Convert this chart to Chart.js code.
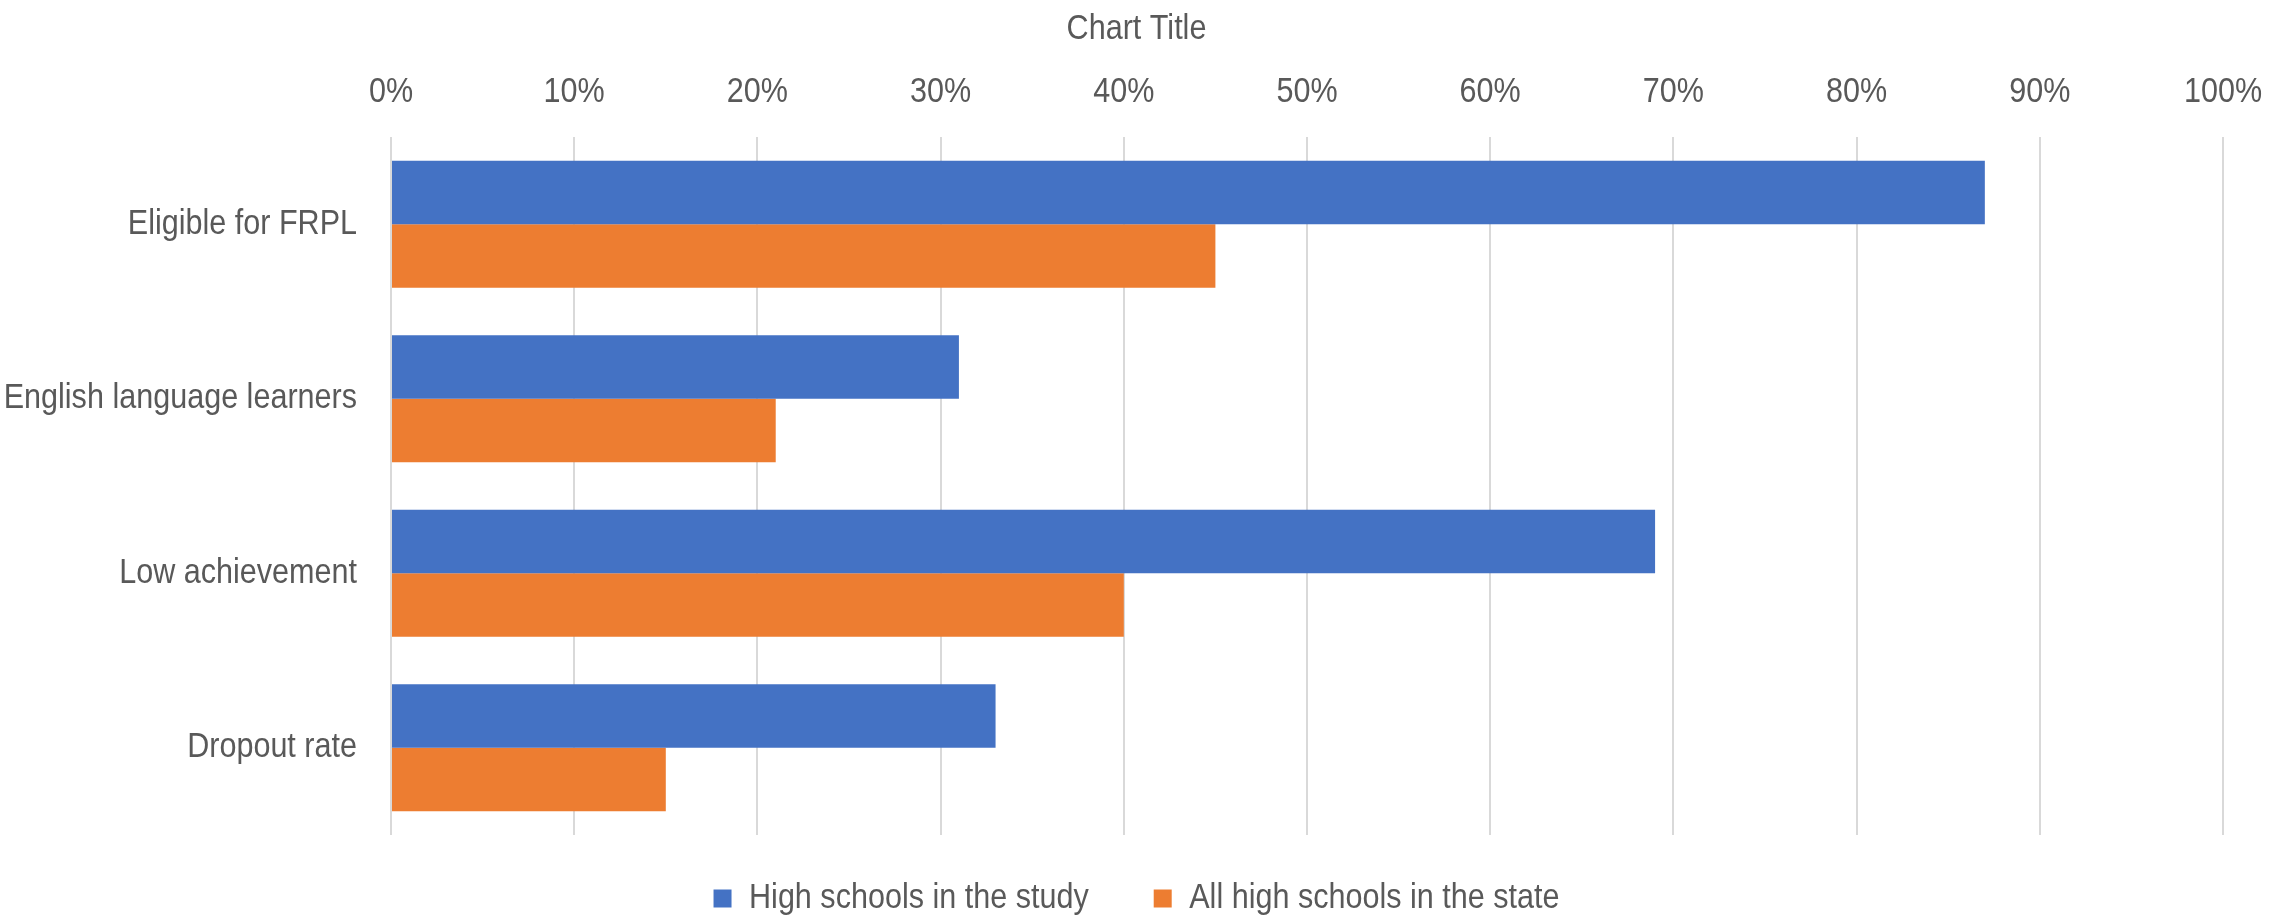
<!DOCTYPE html>
<html>
<head>
<meta charset="utf-8">
<script src="https://cdn.jsdelivr.net/npm/chart.js@4/dist/chart.umd.min.js"></script>
<style>
  html, body { margin: 0; padding: 0; background: #ffffff; }
  #wrap { width: 2288px; height: 917px; position: relative; }
</style>
</head>
<body>
<div id="wrap"><canvas id="c" width="2288" height="917"></canvas></div>
<script>
const categories = ["Eligible for FRPL", "English language learners", "Low achievement", "Dropout rate"];
const studySchools = [87, 31, 69, 33];
const stateSchools = [45, 21, 40, 15];
const seriesNames = ["High schools in the study", "All high schools in the state"];
const chartTitle = "Chart Title";
const xTickValues = [0, 10, 20, 30, 40, 50, 60, 70, 80, 90, 100];

const FONT = "'Liberation Sans', Arial, sans-serif";
const TEXT = "#595959";
const SX = 0.873;          // the reference uses a condensed sans face
const LEGEND_GAP = 37;     // extra spacing after a legend entry

const canvas = document.getElementById("c");
const ctx = canvas.getContext("2d");
const origFill = ctx.fillText.bind(ctx);
const origMeasure = ctx.measureText.bind(ctx);
const gapAfter = new Set(seriesNames.slice(0, -1));
ctx.fillText = function (t, x, y, mw) {
  ctx.save();
  ctx.translate(x, y);
  ctx.scale(SX, 1);
  if (mw !== undefined && mw !== null) origFill(t, 0, 0, mw / SX);
  else origFill(t, 0, 0);
  ctx.restore();
};
ctx.measureText = function (t) {
  const m = origMeasure(t);
  const extra = gapAfter.has(t) ? LEGEND_GAP : 0;
  return {
    width: m.width * SX + extra,
    actualBoundingBoxAscent: m.actualBoundingBoxAscent,
    actualBoundingBoxDescent: m.actualBoundingBoxDescent,
    actualBoundingBoxLeft: m.actualBoundingBoxLeft * SX,
    actualBoundingBoxRight: m.actualBoundingBoxRight * SX,
    fontBoundingBoxAscent: m.fontBoundingBoxAscent,
    fontBoundingBoxDescent: m.fontBoundingBoxDescent
  };
};

new Chart(ctx, {
  type: "bar",
  data: {
    labels: categories,
    datasets: [
      { label: seriesNames[0], data: studySchools, backgroundColor: "#4472C4", borderWidth: 0, xAxisID: "x", yAxisID: "y" },
      { label: seriesNames[1], data: stateSchools, backgroundColor: "#ED7D31", borderWidth: 0, xAxisID: "x", yAxisID: "y" }
    ]
  },
  options: {
    indexAxis: "y",
    responsive: false,
    animation: false,
    devicePixelRatio: 1,
    layout: { padding: { left: 50, right: 65, top: 12, bottom: -9 } },
    datasets: { bar: { categoryPercentage: 0.727, barPercentage: 1.0 } },
    plugins: {
      title: {
        display: true,
        text: chartTitle,
        color: TEXT,
        font: { family: FONT, size: 35, weight: "normal", lineHeight: 1.0 },
        padding: { top: 0, bottom: 0 }
      },
      legend: {
        position: "bottom",
        labels: {
          color: TEXT,
          font: { family: FONT, size: 35 },
          boxWidth: 18,
          boxHeight: 18,
          padding: 28
        }
      },
      tooltip: { enabled: false }
    },
    scales: {
      x: {
        position: "top",
        min: xTickValues[0],
        max: xTickValues[xTickValues.length - 1],
        afterBuildTicks: s => { s.ticks = xTickValues.map(v => ({ value: v })); },
        ticks: {
          color: TEXT,
          font: { family: FONT, size: 35 },
          padding: 24,
          callback: v => v + "%"
        },
        grid: { color: "#D9D9D9", lineWidth: 2, drawTicks: false },
        border: { display: false }
      },
      xb: {
        type: "linear",
        axis: "x",
        position: "bottom",
        min: 0,
        max: 1,
        afterFit: s => { s.height = 18; },
        ticks: { display: false },
        grid: { display: false, drawTicks: false },
        border: { display: false }
      },
      y: {
        afterFit: s => { s.width = 341; s._computeLabelArea = () => undefined; },
        ticks: {
          color: TEXT,
          font: { family: FONT, size: 35 },
          padding: 34
        },
        grid: { display: false, drawTicks: false },
        border: { display: false }
      }
    }
  }
});
</script>
</body>
</html>
